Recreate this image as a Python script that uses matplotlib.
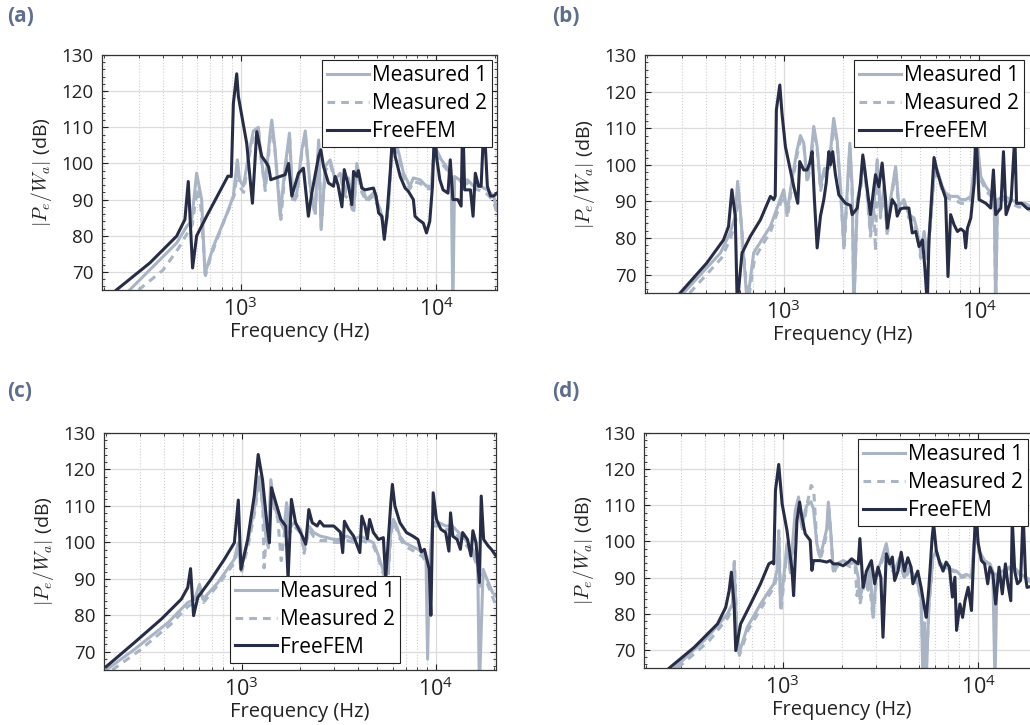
import numpy as np
import matplotlib
matplotlib.use('Agg')
import matplotlib.pyplot as plt
from matplotlib.ticker import AutoMinorLocator

# 글꼴 설정
plt.rcParams['font.family'] = ['Open Sans', 'DejaVu Sans']
plt.rcParams['mathtext.fontset'] = 'cm'
FS = 13.5
plt.rcParams['font.size'] = FS

# ---------------- (a) ----------------
a_fem_f = [231, 343, 470, 518, 539, 567, 595, 669, 860, 895, 917, 954, 973, 1073, 1148, 1208, 1281, 1359, 1390, 1425,
           1688, 1756, 1826, 1976, 2094, 2220, 2311, 2505, 2572, 2652, 2812, 2984, 3042, 3150, 3297, 3388, 3562, 3705,
           3780, 3930, 4000, 4165, 4330, 4780, 4930, 5080, 5280, 5430, 5600, 5820, 5990, 6170, 6550, 6940, 7210, 7650,
           7800, 8110, 8600, 8930, 9280, 9580, 9840, 10040, 10450, 10860, 11500, 11820, 12190, 12920, 13430, 13690,
           14000, 14990, 15460, 15880, 16500, 17000, 17600, 18300, 19000, 19700, 20500]
a_fem_db = [65, 72.5, 79.9, 84.5, 95, 71.1, 80, 85.4, 96.5, 96.4, 116.6, 124.8, 118.5, 105.6, 89, 108.8, 102, 100, 99, 95.5,
            96.9, 100, 91, 97.3, 98.7, 85.4, 91.8, 102, 103.8, 99.2, 94.6, 93.7, 96.4, 94, 88, 98.3, 93.7, 88.6,
            97.8, 96.4, 98, 93.2, 92.7, 93.2, 91, 86.3, 85.4, 79, 85.4, 97.3, 108, 102, 96.4, 93.2, 92.3, 90,
            85.4, 84.5, 83.5, 80.8, 84, 93.7, 112, 102, 95.5, 92.7, 91.8, 101, 90, 90, 88.2, 113,
            92.7, 92.7, 85.4, 97.3, 93.7, 93.7, 112, 93.7, 91, 91, 91.8]
a_m1_f = [270, 470, 529, 560, 595, 631, 656, 724, 848, 917, 961, 986, 1032, 1095, 1161, 1232, 1256, 1333, 1414, 1442,
          1500, 1591, 1688, 1776, 1846, 1937, 2055, 2140, 2267, 2405, 2505, 2580, 2707, 2870, 3040, 3230, 3424, 3560,
          3780, 3930, 4150, 4400, 4780, 5180, 5480, 5700, 5930, 6170, 6440, 6810, 7350, 7650, 8280, 8930, 9470, 9660,
          10040, 10650, 11280, 11950, 12190, 12440, 13170, 13700, 14430, 15580, 16830, 18300, 19700, 20500]
a_m1_db = [65, 78, 82.6, 84, 97.3, 90, 69.5, 77, 86, 91, 101, 95.5, 93.7, 102, 109, 110, 103.8, 93.7, 108.4, 112,
           103.8, 85.4, 99.2, 108.4, 90, 91.8, 103.8, 109, 93.7, 86.3, 106.5, 81.7, 99.2, 101, 95.5, 97.3, 91.8, 96,
           87.2, 100, 94, 90, 91.8, 87.2, 81.7, 88.2, 103.8, 106.5, 102.9, 97.3, 93.7, 96, 95.5, 93.7, 93.7, 101,
           103.8, 101, 99.2, 96.4, 60, 96.4, 95.5, 94, 95.5, 93.7, 93.7, 92.7, 91, 87]
a_m2_f = [300, 400, 480, 530, 565, 598, 625, 660, 700, 800, 880, 930, 965, 990, 1035, 1095, 1165, 1235, 1260, 1335,
          1415, 1445, 1500, 1590, 1605, 1690, 1780, 1850, 1940, 2055, 2140, 2270, 2405, 2505, 2585, 2710, 2870, 3040,
          3230, 3424, 3600, 3780, 3930, 4165, 4400, 4780, 5180, 5480, 5700, 5930, 6170, 6440, 6810, 7350, 7650, 8280,
          8930, 9470, 9660, 10040, 10650, 11280, 11950, 12440, 13170, 14430, 15580, 16830, 18300, 19700, 20500]
a_m2_db = [65, 70.5, 76.5, 80.5, 83, 93, 88, 69, 74, 82.5, 88, 91.5, 99, 93.5, 92, 101, 108, 109, 103, 92.5,
           107, 110.5, 103, 88, 84.5, 98, 107, 89, 91, 103, 108, 93, 85.5, 105.5, 82.5, 98, 100, 95,
           96.5, 91, 90, 86, 99, 92, 89.5, 91, 86.5, 81, 87.5, 103, 105.5, 102, 96.5, 93, 95, 94.5,
           93, 93, 100, 103, 100, 98.5, 96, 95.5, 94.5, 94.5, 93, 92.5, 91.5, 89.5, 86]

# ---------------- (b) ----------------
b_fem_f = [295, 404, 492, 522, 543, 565, 578, 612, 675, 760, 855, 889, 905, 917, 955, 980, 1020, 1081, 1125, 1180,
           1208, 1266, 1317, 1359, 1398, 1436, 1483, 1542, 1604, 1650, 1702, 1734, 1781, 1840, 1915, 2070, 2198, 2240,
           2380, 2470, 2540, 2678, 2780, 2950, 3070, 3190, 3320, 3390, 3590, 3740, 3810, 3960, 4120, 4370, 4550, 4740,
           4930, 5130, 5270, 5430, 5540, 5880, 6110, 6480, 6740, 6930, 7150, 7450, 7750, 8060, 8380, 8540, 8720, 9070,
           9440, 9630, 10000, 10820, 11470, 11840, 12160, 12920, 13330, 13740, 14590, 15240, 15550, 16490, 17700, 20500]
b_fem_db = [65, 73.2, 79.5, 83.2, 93.2, 86, 62, 75.9, 80.5, 85, 91.4, 90.5, 91.5, 115, 121.8, 114, 105, 98.6, 94.1, 89.5,
            100.9, 98.6, 98.6, 100.5, 103.6, 90.5, 77.3, 86, 90.5, 95, 103.6, 100, 103.6, 97.3, 91.8, 89.5, 88.9, 86.4,
            88.2, 95, 102.7, 93.2, 86.4, 97.3, 94, 100.5, 90.5, 82.7, 90.5, 89, 86, 88, 88.2, 88.2, 81.4, 81.8,
            77.7, 79.5, 72.3, 62, 79.5, 102, 98, 93.6, 90.9, 69.5, 86.4, 83.6, 81.8, 82.5, 81.8, 77.3, 82.7, 85.5,
            95, 110, 90.5, 89.5, 88.2, 98.6, 86.4, 88.2, 103.6, 86.4, 90.5, 108, 89.5, 89.5, 88, 88]
b_m1_f = [307, 474, 531, 565, 581, 600, 650, 702, 855, 1000, 1040, 1103, 1170, 1217, 1266, 1317, 1369, 1425, 1483, 1542,
          1615, 1702, 1802, 1876, 1951, 2030, 2110, 2180, 2240, 2283, 2380, 2470, 2570, 2670, 2780, 2894, 3010, 3130,
          3260, 3390, 3520, 3740, 3890, 4120, 4370, 4640, 4830, 5030, 5230, 5430, 5650, 5880, 6110, 6480, 6740, 7150,
          7750, 8060, 8540, 9070, 9440, 9750, 10200, 10820, 11470, 11950, 12160, 12410, 13430, 14590, 15870, 17200,
          18300, 20500]
b_m1_db = [65, 75.9, 81.4, 86, 95.5, 87.3, 62, 76, 83.2, 93.2, 86.8, 96, 104, 108, 106, 96, 101, 110.5, 105, 94.1,
           99, 99, 112.7, 106.8, 94.1, 77.7, 92.3, 105.9, 94, 60, 90.5, 94.1, 101.4, 93, 81.8, 88.6, 101.4, 86.4,
           94.1, 81.8, 90.5, 99.5, 88.6, 90.5, 86.4, 85.5, 81.8, 75.9, 81.8, 75, 85.5, 97.3, 98.6, 94.1, 92.3, 91.4,
           91.4, 90.5, 90.5, 91.4, 99.5, 107, 96.8, 94.1, 92.3, 90.5, 60, 90.5, 91.4, 90.5, 89.5, 89.5,
           88.6, 86]
b_m2_f = [330, 480, 535, 568, 584, 602, 655, 710, 860, 1000, 1045, 1105, 1175, 1220, 1270, 1320, 1372, 1430, 1485, 1545,
          1620, 1705, 1805, 1880, 1955, 2035, 2110, 2180, 2240, 2290, 2380, 2470, 2570, 2670, 2780, 2894, 2950, 3010,
          3130, 3260, 3390, 3520, 3740, 3890, 4120, 4370, 4640, 4830, 5030, 5230, 5430, 5650, 5880, 6110, 6480, 6740,
          7150, 7750, 8060, 8540, 9070, 9440, 9750, 10200, 10820, 11470, 11950, 12160, 12410, 13430, 14590, 15870,
          17200, 18300, 20500]
b_m2_db = [65, 74.5, 80, 84.5, 94, 86, 62, 74.5, 82, 92, 85.5, 95, 103, 107, 105, 95, 100, 109.5, 104, 93,
           98, 98, 111.5, 105.5, 93, 76.5, 91, 104.5, 93, 62, 89.5, 93, 100.5, 92, 80.5, 87.5, 76.5, 100.5,
           85.5, 93, 80.5, 89.5, 98.5, 87.5, 89.5, 85.5, 84.5, 80.5, 74.5, 80.5, 73.5, 84.5, 96.5, 97.5, 93, 91.5,
           90.5, 90, 89.5, 89.5, 90.5, 98.5, 106, 96, 93, 91.5, 89.5, 62, 89.5, 90.5, 89.5, 88.5,
           88.5, 87.5, 84.5]

# ---------------- (c) ----------------
c_fem_f = [200, 281, 386, 488, 527, 545, 565, 594, 696, 815, 917, 961, 992, 1074, 1161, 1217, 1281, 1359, 1390, 1425,
           1500, 1591, 1688, 1735, 1805, 1897, 2055, 2140, 2220, 2311, 2450, 2530, 2652, 2984, 3230, 3320, 3388, 3560,
           3780, 4070, 4165, 4330, 4450, 4570, 4780, 5080, 5380, 5530, 5880, 5990, 6170, 6550, 7080, 7650, 8110, 8430,
           8760, 9280, 9460, 9720, 10110, 10650, 11280, 11720, 11950, 12280, 12920, 13430, 13790, 14610, 15230, 15580,
           16170, 16830, 17200, 17700, 18700, 19400, 20500]
c_fem_db = [65.9, 72.6, 79, 84.4, 87.6, 92.8, 79.9, 84.9, 89.9, 95.4, 99.9, 111.6, 92.6, 100.8, 112.7, 124.1, 117.2, 103.6, 99.9, 115,
            110.9, 106.3, 104.5, 90, 111.8, 105.4, 101.7, 99.5, 109, 105.4, 104.5, 105.8, 104.5, 104.5, 102.8, 97.2, 105.8, 103.6,
            101.7, 97.2, 107.2, 104.5, 101, 106.3, 102.7, 100.8, 101.3, 90, 110.9, 115.9, 110, 105.4, 102.7, 101.7, 100.8, 97.4,
            98.1, 92.6, 80, 113.6, 106.3, 103.6, 102.7, 97.6, 108.1, 101.7, 100.8, 98.1, 102.7, 100.8, 96.3, 103.2,
            99.9, 89, 112.7, 100.8, 99, 98.1, 96.3]
c_m1_f = [200, 281, 417, 527, 572, 606, 631, 755, 917, 961, 992, 1074, 1161, 1232, 1281, 1333, 1370, 1414, 1476, 1533,
          1655, 1705, 1756, 1860, 2014, 2094, 2220, 2355, 2550, 2758, 2984, 3230, 3490, 3780, 4100, 4430, 4780, 5080,
          5280, 5490, 5700, 5880, 6060, 6300, 6550, 6940, 7490, 8110, 8600, 8930, 9100, 9280, 9660, 10450, 11280, 12190,
          13170, 14240, 15580, 16500, 16830, 17600, 18700, 19700, 20500]
c_m1_db = [65, 70.7, 78, 83.5, 84.4, 88.5, 84.4, 89, 95.4, 99.9, 92.6, 99.9, 109, 118, 110.9, 101.7, 99, 117.2, 110, 107.2,
           103.6, 110.9, 103.6, 105.4, 103.6, 98.1, 104.5, 102.7, 101.7, 101.3, 100.8, 100.8, 101.7, 100.8, 101.7, 100.8, 99.9, 96.3,
           93.5, 90.8, 92, 103.6, 106.3, 104.5, 101.7, 99.9, 99, 98.1, 97.2, 95.4, 68, 92.6, 105.4, 105.4, 104.5, 104.5,
           102.7, 100.8, 98.1, 93.5, 60, 92.6, 89, 86.2, 85.3]
c_m2_f = [215, 300, 430, 530, 575, 608, 635, 760, 920, 965, 995, 1078, 1165, 1235, 1285, 1305, 1335, 1372, 1416, 1480,
          1535, 1600, 1660, 1708, 1760, 1865, 2020, 2100, 2225, 2360, 2555, 2760, 2990, 3235, 3495, 3785, 4105, 4435,
          4785, 5085, 5285, 5495, 5705, 5885, 6065, 6305, 6555, 6945, 7495, 8115, 8605, 8935, 9290, 9665, 10455, 11285,
          12195, 13175, 14245, 15585, 16505, 17000, 17605, 18705, 19705, 20500]
c_m2_db = [65, 70.5, 77.5, 82.5, 83.5, 87.5, 83.5, 88.5, 94.5, 99, 91.5, 99, 108, 117, 110, 93, 101, 98.5, 116, 109,
           106.5, 95, 102.5, 110, 102.5, 104.5, 102.5, 97, 103.5, 101.5, 100.5, 100.5, 100, 100, 100.5, 100, 100.5, 100,
           99, 95.5, 92.5, 90, 91, 102.5, 105.5, 103.5, 101, 99, 98, 97, 96, 94.5, 91.5, 104.5, 104.5, 103.5,
           103.5, 101.5, 99.5, 97, 92.5, 88, 91.5, 88, 85, 82.5]

# ---------------- (d) ----------------
d_fem_f = [263, 352, 464, 511, 532, 546, 564, 575, 609, 685, 770, 849, 880, 900, 918, 954, 993, 1052, 1116, 1137,
           1183, 1220, 1254, 1304, 1383, 1410, 1437, 1554, 1680, 1747, 1816, 1926, 2042, 2166, 2253, 2435, 2483, 2580,
           2682, 2844, 2956, 3074, 3180, 3260, 3390, 3530, 3640, 3740, 3890, 4040, 4200, 4370, 4540, 4640, 4910, 5110,
           5310, 5430, 5600, 5820, 5920, 6110, 6350, 6620, 6860, 7130, 7390, 7610, 7760, 8070, 8330, 8570, 8900, 9250,
           9440, 9740, 9990, 10400, 10800, 11200, 11500, 11900, 12300, 12800, 13300, 13800, 14200, 14700, 14960, 15400,
           15900, 16500, 17000, 17500, 17800, 20500]
d_fem_db = [65, 70.7, 77.2, 81.8, 86.4, 91.5, 82.7, 69.8, 77.2, 82.7, 88.3, 93.8, 94.3, 93.8, 114.1, 121.3, 110.4, 103, 92, 85,
            105.8, 110.9, 106.7, 102.1, 100.3, 92, 94.7, 94.7, 94.3, 94.7, 93.8, 93.8, 93.3, 94.3, 95.2, 93.8, 100.8, 87.3,
            91.8, 94.7, 88.3, 92.9, 90, 73.5, 96.6, 93.8, 95.7, 89.2, 91.8, 97, 91.8, 95.5, 92.9, 88.3, 91.8, 87.3,
            81.8, 79, 87.3, 101.2, 104.9, 97.5, 94.3, 91.8, 94.3, 92.9, 84.6, 90.1, 75.4, 82.7, 79, 83.6, 87.3, 80.9,
            92.9, 110, 99.8, 94.7, 93.8, 88.3, 92.9, 91, 82.7, 92.9, 85.5, 93.8, 88.3, 83.6, 106, 91.8,
            88.3, 89.2, 108, 90.1, 87.3, 88]
d_m1_f = [279, 412, 522, 553, 564, 582, 597, 659, 770, 900, 935, 954, 974, 1012, 1052, 1094, 1160, 1205, 1254, 1304,
          1330, 1394, 1437, 1495, 1554, 1615, 1680, 1712, 1760, 1816, 1888, 2042, 2210, 2343, 2435, 2483, 2630, 2735,
          2790, 2900, 3017, 3195, 3390, 3530, 3740, 3960, 4200, 4450, 4740, 4910, 5110, 5220, 5310, 5430, 5600, 5870,
          6110, 6350, 6740, 7130, 7760, 8220, 8720, 9250, 9520, 9800, 10100, 10800, 11500, 11900, 12200, 12500, 13300,
          14400, 15600, 16500, 17500, 20500]
d_m1_db = [65, 73.5, 80, 82.7, 94, 75.4, 69, 76.3, 82.7, 88.3, 92, 103, 81.8, 90.1, 99.4, 92, 108.6, 112.3, 103.9, 108.6,
           110, 111, 109, 99.4, 95.7, 99.4, 103.5, 110.9, 103, 91.8, 93.8, 94.7, 93.8, 94.3, 90.1, 84.1, 90.1, 87.3,
           93.8, 79, 91, 94.7, 99.4, 93.8, 91.8, 95.5, 90.1, 92.9, 90.1, 88.3, 84.6, 62, 77.2, 62, 82.7, 95.5,
           97.5, 94.3, 92.9, 92.4, 91.8, 90.4, 90.9, 90.1, 99.4, 104, 97.5, 94.7, 93.8, 91.8, 60, 91, 91.8,
           92.9, 92.4, 91, 90.1, 88]
d_m2_f = [290, 420, 525, 555, 566, 585, 600, 665, 775, 905, 940, 958, 978, 1015, 1055, 1098, 1165, 1210, 1258, 1308,
          1335, 1398, 1440, 1500, 1560, 1620, 1685, 1716, 1765, 1820, 1890, 2045, 2215, 2345, 2400, 2440, 2490, 2635,
          2740, 2795, 2820, 2905, 3020, 3200, 3395, 3535, 3745, 3965, 4205, 4455, 4745, 4915, 5115, 5225, 5315, 5440,
          5605, 5875, 6115, 6355, 6745, 7135, 7765, 8225, 8725, 9255, 9525, 9805, 10105, 10805, 11505, 11905, 12505,
          13305, 14405, 15605, 16505, 17505, 20500]
d_m2_db = [65, 72.5, 79, 82, 94.5, 74.5, 68.5, 75.5, 81.5, 87.5, 91, 101, 80.5, 89, 98.5, 91, 107.5, 111, 103, 107.5,
           110.5, 115.5, 114.5, 98.5, 95, 98.5, 102.5, 110, 102, 91, 93, 94, 93, 93.5, 85, 89.5, 83, 89,
           86.5, 93, 85, 78.5, 90, 94, 98.5, 93, 91, 94.5, 89.5, 92, 89.5, 87.5, 84, 65, 77.5, 66,
           82, 95, 97, 93.5, 92.5, 92, 91.5, 90, 90.5, 89.5, 98.5, 103, 97, 94.5, 93.5, 91.5, 90.5,
           91.5, 92.5, 92, 90.5, 89.5, 87.5]

series_labels = ['Measured 1', 'Measured 2', 'FreeFEM']
panel_names = ['(a)', '(b)', '(c)', '(d)']

DARK = '#282d47'
LIGHT = '#a9b4c5'
W, H = 1030, 725

fig = plt.figure(figsize=(W / 100, H / 100), dpi=100)


def make_axes(l, t, w, h):
    return fig.add_axes([l / W, 1 - (t + h) / H, w / W, h / H])


panels = [
    (make_axes(102, 55, 395, 235), (a_m1_f, a_m1_db), (a_m2_f, a_m2_db), (a_fem_f, a_fem_db), ('upper left', (0.557, 0.979))),
    (make_axes(645, 55, 395, 238), (b_m1_f, b_m1_db), (b_m2_f, b_m2_db), (b_fem_f, b_fem_db), ('upper left', (0.529, 0.979))),
    (make_axes(104, 433, 392, 237), (c_m1_f, c_m1_db), (c_m2_f, c_m2_db), (c_fem_f, c_fem_db), ('lower left', (0.321, 0.03))),
    (make_axes(644, 433, 395, 235), (d_m1_f, d_m1_db), (d_m2_f, d_m2_db), (d_fem_f, d_fem_db), ('upper left', (0.542, 0.974))),
]

label_pos = [(7, 17), (552, 17), (7, 392), (552, 392)]

for (ax, m1, m2, fem, (loc, anchor)), name, (lx, ly) in zip(panels, panel_names, label_pos):
    ax.plot(m1[0], m1[1], color=LIGHT, lw=2.2, label=series_labels[0])
    ax.plot(m2[0], m2[1], color=LIGHT, lw=2.2, ls=(0, (2.5, 2)), label=series_labels[1])
    ax.plot(fem[0], fem[1], color=DARK, lw=2.2, label=series_labels[2])

    ax.set_xscale('log')
    ax.set_xlim(195, 20500)
    ax.set_ylim(65, 130)
    ax.set_yticks(range(70, 131, 10))
    ax.yaxis.set_minor_locator(AutoMinorLocator(5))

    ax.grid(True, which='major', color='#dcdcdc', lw=0.9)
    ax.grid(True, which='minor', axis='x', color='#cfcfcf', lw=0.8, ls=':')
    ax.set_axisbelow(True)

    ax.tick_params(which='both', direction='in', top=True, right=True, colors='#222222',
                   labelsize=FS, pad=6)
    ax.tick_params(axis='x', labelsize=15.5, pad=5)
    ax.tick_params(which='major', length=4, width=0.8)
    ax.tick_params(which='minor', length=2, width=0.6)
    for s in ax.spines.values():
        s.set_color('#333333')
        s.set_linewidth(0.9)

    ax.set_xlabel('Frequency (Hz)', fontsize=14.5, labelpad=1, color='#222222')
    ax.set_ylabel(r'$|P_e/W_a|$ (dB)', fontsize=14, labelpad=5, color='#222222')

    leg = ax.legend(loc=loc, bbox_to_anchor=anchor, borderaxespad=0, fancybox=False, framealpha=1,
                    edgecolor='#222222', fontsize=15, handlelength=2.0, handletextpad=0.15,
                    labelspacing=0.33, borderpad=0.25)
    leg.get_frame().set_linewidth(0.8)
    leg.set_zorder(10)

    fig.text(lx / W, 1 - ly / H, name, fontsize=15, fontweight='bold', color='#5d6e8e', va='center')

fig.savefig('out.png', dpi=100)
